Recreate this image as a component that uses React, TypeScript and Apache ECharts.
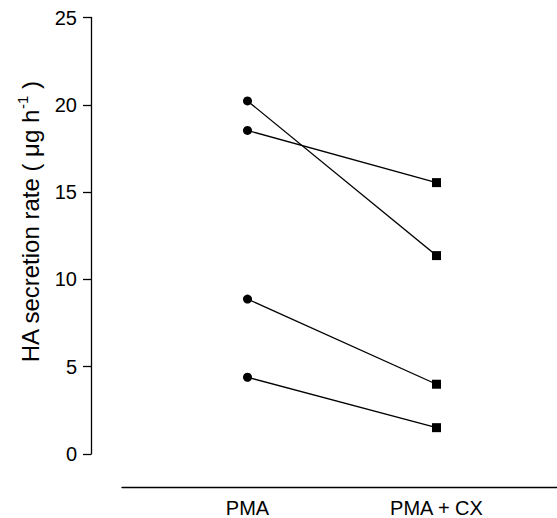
import React, { useEffect, useRef } from "react";
import * as echarts from "echarts";

const categories = ["PMA", "PMA + CX"];
const pmaValues = [20.2, 18.5, 8.8, 4.3];
const pmaCxValues = [11.3, 15.5, 3.9, 1.4];
const yTicks = { min: 0, max: 25, interval: 5 };

export default function App() {
  const ref = useRef<HTMLDivElement>(null);
  useEffect(() => {
    if (!ref.current) return;
    const chart = echarts.init(ref.current, null, { renderer: "svg" });
    const font = "Liberation Sans, Arial, sans-serif";
    const series = pmaValues.map((v, i) => ({
      type: "line",
      xAxisIndex: 1,
      yAxisIndex: 1,
      data: [
        { value: v, symbol: "circle", symbolSize: 9 },
        { value: pmaCxValues[i], symbol: "rect", symbolSize: 9 },
      ],
      lineStyle: { color: "#000", width: 1.3 },
      itemStyle: { color: "#000" },
      showSymbol: true,
      z: 3,
    }));
    chart.setOption({
      animation: false,
      backgroundColor: "#fff",
      grid: [
        { left: 91, top: 17.5, width: 1, height: 436.5 },
        { left: 153, width: 378, top: 17.5, height: 436.5 },
        { left: 122, right: 0, top: 17.5, height: 469.5 },
      ],
      xAxis: [
        { gridIndex: 0, type: "value", show: false },
        {
          gridIndex: 1,
          type: "category",
          data: categories,
          boundaryGap: true,
          offset: 33,
          axisLine: { show: false },
          axisTick: { show: false },
          axisLabel: {
            margin: 13,
            color: "#000",
            fontSize: 20,
            fontFamily: font,
          },
        },
        {
          gridIndex: 2,
          type: "value",
          min: 0,
          max: 1,
          axisLine: { show: true, lineStyle: { color: "#000", width: 1.3 } },
          axisTick: { show: false },
          axisLabel: { show: false },
          splitLine: { show: false },
        },
      ],
      yAxis: [
        {
          gridIndex: 0,
          type: "value",
          min: yTicks.min,
          max: yTicks.max,
          interval: yTicks.interval,
          axisLine: { show: true, lineStyle: { color: "#000", width: 1.3 } },
          axisTick: { show: true, length: 8, lineStyle: { color: "#000", width: 1.3 } },
          axisLabel: { color: "#000", fontSize: 20, fontFamily: font, margin: 14 },
          splitLine: { show: false },
        },
        {
          gridIndex: 1,
          type: "value",
          min: yTicks.min,
          max: yTicks.max,
          show: false,
        },
        {
          gridIndex: 2,
          type: "value",
          min: 0,
          max: 1,
          show: false,
        },
      ],
      graphic: [
        {
          type: "text",
          x: 30,
          y: 222,
          rotation: Math.PI / 2,
          style: {
            text: "{a|HA secretion rate ( μg h}{s|-1}{a| )}",
            align: "center",
            verticalAlign: "middle",
            fill: "#000",
            rich: {
              a: { fontSize: 24, fontFamily: font, fill: "#000", lineHeight: 30 },
              s: { fontSize: 15, fontFamily: font, fill: "#000", verticalAlign: "top", lineHeight: 14 },
            },
          },
        },
      ],
      series,
    });
    return () => chart.dispose();
  }, []);
  return <div ref={ref} style={{ width: 557, height: 518, position: "absolute", left: 0, top: 0 }} />;
}
